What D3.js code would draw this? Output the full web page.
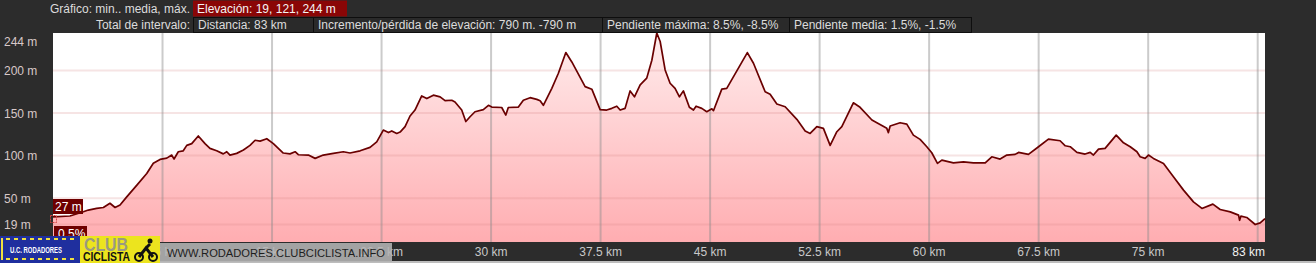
<!DOCTYPE html>
<html><head><meta charset="utf-8">
<script src="https://cdn.jsdelivr.net/npm/d3@7"></script>
<style>
html,body{margin:0;padding:0;background:#2c2c2c;overflow:hidden}
svg{display:block;font-family:Arial,"Liberation Sans",sans-serif}
</style></head>
<body>
<svg id="c" width="1316" height="263"></svg>
<script>
// ---- data ----
const distanceKm = [0.0,1.16,2.08,2.42,2.99,3.45,3.90,4.25,4.59,5.05,5.73,6.42,6.87,7.33,7.79,8.13,8.29,8.58,8.92,9.16,9.50,9.95,10.41,10.75,11.21,11.66,11.90,12.12,12.58,13.04,13.49,13.84,14.18,14.64,15.09,15.77,16.23,16.58,16.80,17.49,17.95,18.51,19.20,19.88,20.34,21.03,21.71,22.17,22.62,22.97,23.20,23.54,23.77,24.11,24.45,24.79,25.25,25.60,26.05,26.51,26.85,27.31,27.53,27.99,28.27,28.56,28.90,29.47,29.82,30.05,30.73,31.01,31.18,31.87,32.21,32.67,33.13,33.36,33.58,34.16,34.61,35.12,35.53,36.44,36.90,37.47,37.92,38.27,38.61,38.84,39.18,39.52,39.82,40.21,40.66,41.01,41.35,41.58,41.92,42.26,42.60,42.90,43.17,43.58,43.86,44.04,44.43,44.77,45.12,45.23,45.80,46.14,47.55,47.97,48.77,49.11,49.57,50.14,50.94,51.51,51.85,52.31,52.76,53.22,53.68,54.02,54.81,55.27,56.08,57.10,57.21,57.33,58.01,58.47,58.92,59.38,59.84,60.18,60.57,60.87,61.66,62.35,63.03,63.84,64.29,64.86,65.32,65.89,66.12,66.80,67.49,68.17,68.97,69.32,69.66,70.12,70.68,71.03,71.25,71.60,72.05,72.81,73.31,73.77,74.23,74.45,74.79,75.02,75.36,76.05,76.73,77.42,78.10,78.68,79.43,79.93,80.62,81.19,81.26,81.35,81.75,82.33,82.67,83.0];
const elevationM = [28,29,34,36,38,39,44,39,42,51.5,65,79,91,95.5,97,100.6,96,104.5,105.6,112,114,123,114,108.5,105.6,102,104.5,100.6,102.6,106.5,112,118,117,119.8,114,103,102,104.5,101,100.6,96.7,100.6,102.6,104.5,103,105.6,109.6,116,130,127,129,126,127.6,134,146.5,153.5,170,167,171,169,164.5,165,163,153.5,140,145.6,151.5,154,159,157,156.5,147.6,156.5,157,165,168,166,164.5,159,179,196.7,221,210,181,178,154,153.5,155.5,158,153.5,155.5,176,169,183,191,212,244,234,200.6,185,179,169,176,156.7,153.5,158,155.5,151.5,155,152.7,178,179,221,208.5,175,172,160.6,157.4,142.6,129,126,134,132,112,128,134,162,156.7,141.8,132,127,134.7,138.6,137,124,119,110.4,103.3,90.8,94.7,91.5,92.7,91.5,91.5,98.6,95.9,100.6,101.4,103.7,101.4,110.4,119.4,117.4,111.5,110.4,103.7,101.8,103.7,100.6,107.6,108.5,124,115,110.4,104.5,98.6,96.7,100.6,96.7,90.8,75,59.4,45.6,37.9,43,36.7,33.9,30,24,28.8,27.3,19,21,26];
const xTicks = [7.5,15,22.5,30,37.5,45,52.5,60,67.5,75,82.5];
const xTickLabels = ["7.5 km","15 km","22.5 km","30 km","37.5 km","45 km","52.5 km","60 km","67.5 km","75 km"];
const xEndLabel = "83 km";
const yGrid = [19,50,100,150,200];
const yTicks = [244,200,150,100,50,19];
const yTickLabels = ["244 m","200 m","150 m","100 m","50 m","19 m"];
const headerRow1Label = "Gráfico: min.. media, máx.";
const headerRow1Box = "Elevación: 19, 121, 244 m";
const headerRow2Label = "Total de intervalo:";
const headerRow2Boxes = ["Distancia: 83 km","Incremento/pérdida de elevación: 790 m. -790 m","Pendiente máxima: 8.5%, -8.5%","Pendiente media: 1.5%, -1.5%"];
const cursorLabels = ["27 m","0.5%"];
const logoUrl = "WWW.RODADORES.CLUBCICLISTA.INFO";

// ---- layout ----
const L=53, R=1265, T=33, B=242;
const svg = d3.select("#c");
const x = d3.scaleLinear().domain([0,83]).range([L,R]);
const y = d3.scaleLinear().domain([0,244]).range([240.7,T]);
const pts = distanceKm.map((d,i)=>({d, e:elevationM[i]}));

svg.append("rect").attr("width",1316).attr("height",263).attr("fill","#2c2c2c");
svg.append("rect").attr("x",0).attr("y",261).attr("width",1316).attr("height",2).attr("fill","#bdbdbd");

svg.append("rect").attr("x",L).attr("y",T).attr("width",R-L).attr("height",B-T).attr("fill","#ffffff");

const defs = svg.append("defs");
const g = defs.append("linearGradient").attr("id","fillg").attr("gradientUnits","userSpaceOnUse")
  .attr("x1",0).attr("x2",0).attr("y1",T).attr("y2",B);
g.append("stop").attr("offset","0").attr("stop-color","#ffeded");
g.append("stop").attr("offset","1").attr("stop-color","#ffadb1");

const area = d3.area().x(p=>x(p.d)).y0(B).y1(p=>y(p.e));
svg.append("path").datum(pts).attr("d",area).attr("fill","url(#fillg)");

svg.append("g").selectAll("line").data(yGrid).join("line")
  .attr("x1",L).attr("x2",R).attr("y1",d=>y(d)).attr("y2",d=>y(d))
  .attr("stroke","rgba(215,130,130,0.22)").attr("stroke-width",2);
svg.append("g").selectAll("line").data(xTicks).join("line")
  .attr("x1",d=>x(d)).attr("x2",d=>x(d)).attr("y1",T).attr("y2",B)
  .attr("stroke","rgba(140,140,140,0.45)").attr("stroke-width",2);

const line = d3.line().x(p=>x(p.d)).y(p=>y(p.e));
svg.append("path").datum(pts).attr("d",line).attr("fill","none")
  .attr("stroke","#6a0000").attr("stroke-width",1.7).attr("stroke-linejoin","round");

// bottom axis bar
svg.append("rect").attr("x",0).attr("y",B).attr("width",1316).attr("height",261-B).attr("fill","#2c2c2c");
svg.append("g").selectAll("text").data(xTicks.slice(0,xTickLabels.length)).join("text")
  .attr("x",d=>x(d)).attr("y",256).attr("text-anchor","middle")
  .attr("font-size",12).attr("fill","#c8c8c8").text((d,i)=>xTickLabels[i]);
svg.append("text").attr("x",R).attr("y",256).attr("text-anchor","end")
  .attr("font-size",12).attr("fill","#f2f2f2").text(xEndLabel);

// y labels
svg.append("g").selectAll("text").data(yTicks).join("text")
  .attr("x",4).attr("y",(d)=>Math.max(y(d),41)+4.5)
  .attr("font-size",12).attr("fill","#d8c8c8").text((d,i)=>yTickLabels[i]);

// header
svg.append("text").attr("x",190).attr("y",13).attr("text-anchor","end")
  .attr("font-size",12).attr("fill","#dcdcdc").text(headerRow1Label);
svg.append("rect").attr("x",193).attr("y",0.5).attr("width",154).attr("height",16).attr("fill","#8a0606");
svg.append("text").attr("x",197).attr("y",13).attr("font-size",12).attr("fill","#f4f4f4").text(headerRow1Box);
svg.append("text").attr("x",190).attr("y",29).attr("text-anchor","end")
  .attr("font-size",12).attr("fill","#dcdcdc").text(headerRow2Label);
const boxX = [193,313,602,789,971];
headerRow2Boxes.forEach((t,i)=>{
  svg.append("rect").attr("x",boxX[i]+0.5).attr("y",17.5).attr("width",boxX[i+1]-boxX[i]).attr("height",15)
    .attr("fill","#2a2a2a").attr("stroke","#0e0e0e").attr("stroke-width",1);
  svg.append("text").attr("x",boxX[i]+5).attr("y",29).attr("font-size",12).attr("fill","#dcdcdc").text(t);
});

// cursor markers
svg.append("rect").attr("x",50.5).attr("y",215.5).attr("width",6).attr("height",7)
  .attr("fill","none").attr("stroke","#d04040").attr("stroke-dasharray","2,1");
svg.append("rect").attr("x",53).attr("y",199).attr("width",30).attr("height",15).attr("fill","#6e0000");
svg.append("text").attr("x",55).attr("y",211).attr("font-size",12).attr("fill","#ffffff").text(cursorLabels[0]);
svg.append("rect").attr("x",54).attr("y",226).attr("width",33).attr("height",15).attr("fill","#6e0000");
svg.append("text").attr("x",58).attr("y",238).attr("font-size",12).attr("fill","#ffffff").text(cursorLabels[1]);

// logo
const lg = svg.append("g");
lg.append("rect").attr("x",0).attr("y",236).attr("width",80).attr("height",27).attr("fill","#1f2f9e");
for(let i=0;i<9;i++){
  lg.append("rect").attr("x",6+i*8).attr("y",238).attr("width",4).attr("height",2).attr("fill","#f0e040");
  lg.append("rect").attr("x",6+i*8).attr("y",258).attr("width",4).attr("height",2).attr("fill","#f0e040");
}
lg.append("rect").attr("x",1).attr("y",238).attr("width",2).attr("height",22).attr("fill","#f0e040");
lg.append("text").attr("x",10).attr("y",253).attr("font-size",9).attr("font-weight","bold")
  .attr("textLength",52).attr("lengthAdjust","spacingAndGlyphs")
  .attr("fill","#ffffff").text("U.C. RODADORES");
lg.append("rect").attr("x",80).attr("y",236).attr("width",80).attr("height",27).attr("fill","#ece41e");
lg.append("text").attr("x",84).attr("y",251).attr("font-size",18).attr("font-weight","bold")
  .attr("textLength",44).attr("lengthAdjust","spacingAndGlyphs")
  .attr("fill","#9a9a80").text("CLUB");
lg.append("text").attr("x",83).attr("y",261).attr("font-size",13).attr("font-weight","bold")
  .attr("textLength",47).attr("lengthAdjust","spacingAndGlyphs")
  .attr("fill","#111").text("CICLISTA");
lg.append("circle").attr("cx",139).attr("cy",257).attr("r",4).attr("fill","none").attr("stroke","#111").attr("stroke-width",2);
lg.append("circle").attr("cx",153).attr("cy",257).attr("r",4).attr("fill","none").attr("stroke","#111").attr("stroke-width",2);
lg.append("path").attr("d","M139 257 L146 248 L153 257 M146 248 L150 244").attr("stroke","#111").attr("stroke-width",3).attr("fill","none");
lg.append("circle").attr("cx",150).attr("cy",241).attr("r",2.5).attr("fill","#111");
lg.append("rect").attr("x",160).attr("y",243).attr("width",232).attr("height",19).attr("fill","#b4b4b4").attr("opacity",0.88);
lg.append("text").attr("x",167).attr("y",257).attr("font-size",11)
  .attr("textLength",218).attr("lengthAdjust","spacingAndGlyphs")
  .attr("fill","#1e1e1e").text(logoUrl);
</script>
</body></html>
